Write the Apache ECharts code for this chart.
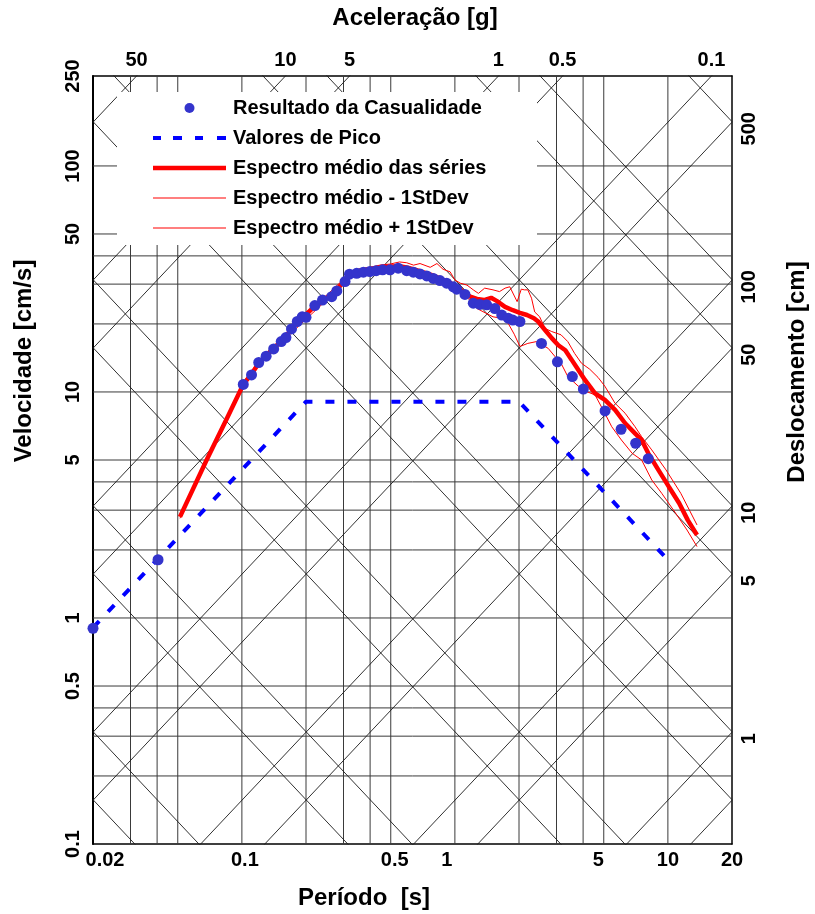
<!DOCTYPE html>
<html><head><meta charset="utf-8">
<script src="https://cdn.jsdelivr.net/npm/echarts@6/dist/echarts.min.js"></script>
<style>html,body{margin:0;padding:0;background:#fff}#c{width:815px;height:914px}</style>
</head><body><div id="c"></div>
<script>
// ---------- data ----------
const periodTicks = [0.02, 0.1, 0.5, 1, 5, 10, 20];
const velocityTicks = [0.1, 0.5, 1, 5, 10, 50, 100, 250];
const accelTicks = [50, 10, 5, 1, 0.5, 0.1];          // g
const dispTicks = [500, 100, 50, 10, 5, 1];            // cm
const gridPeriods = [0.03, 0.04, 0.05, 0.1, 0.2, 0.3, 0.4, 0.5, 1, 2, 3, 4, 5, 10];
const gridVelocities = [0.2, 0.3, 0.4, 0.5, 1, 2, 3, 4, 5, 10, 20, 30, 40, 50, 100];
const dispLines = [0.0005, 0.001, 0.005, 0.01, 0.05, 0.1, 0.5, 1, 5, 10, 50, 100, 500];
const accLines = [0.00005, 0.0001, 0.0005, 0.001, 0.005, 0.01, 0.05, 0.1, 0.5, 1, 5, 10, 50];

const casualT = [0.02, 0.0404, 0.1015, 0.111, 0.120, 0.130, 0.141, 0.153, 0.161, 0.171, 0.182, 0.192, 0.200,
  0.220, 0.239, 0.264, 0.279, 0.305, 0.320, 0.346, 0.372, 0.399, 0.427, 0.458, 0.496, 0.542, 0.594, 0.638,
  0.686, 0.738, 0.792, 0.851, 0.915, 0.983, 1.02, 1.115, 1.22, 1.31, 1.41, 1.54, 1.66, 1.78, 1.87, 2.02,
  2.55, 3.03, 3.56, 4.01, 5.07, 6.03, 7.06, 8.09];
const casualV = [0.90, 1.81, 10.8, 11.9, 13.5, 14.4, 15.5, 16.7, 17.4, 19.0, 20.5, 21.5, 21.4,
  24.1, 25.5, 26.4, 28.0, 30.8, 33.2, 33.5, 33.9, 34.1, 34.4, 34.7, 34.7, 35.3, 34.4, 33.9,
  33.3, 32.6, 31.8, 31.1, 30.3, 29.2, 28.5, 27.0, 24.7, 24.4, 24.3, 23.4, 21.9, 21.2, 20.8, 20.5,
  16.4, 13.6, 11.7, 10.3, 8.24, 6.84, 5.93, 5.07];

const peakT = [0.02, 0.2, 2, 10];
const peakV = [0.906, 9.06, 9.06, 1.81];

const meanT = [0.0512, 0.0683, 0.0848, 0.1015, 0.111, 0.12, 0.13, 0.141, 0.153, 0.161, 0.171,
  0.182, 0.192, 0.2, 0.22, 0.239, 0.264, 0.279, 0.305, 0.32, 0.35, 0.4, 0.45, 0.5, 0.55, 0.6, 0.65, 0.7,
  0.75, 0.8, 0.85, 0.9, 0.95, 1.0, 1.06, 1.12, 1.18, 1.27, 1.37, 1.48, 1.57, 1.72, 1.87, 2.02, 2.18, 2.35,
  2.46, 2.65, 2.85, 3.06, 3.3, 3.53, 3.8, 4.08, 4.55, 5.06, 5.65, 6.3, 7.01, 7.53, 8.09, 9.02, 10.1, 11.3,
  12.4, 13.7];
const meanV = [2.8, 5.0, 7.6, 10.8, 12.0, 13.4, 14.5, 15.6, 16.8, 17.6, 19.0,
  20.5, 21.5, 22.0, 24.0, 25.6, 26.8, 28.3, 31.2, 33.5, 34.3, 35.0, 35.6, 35.9, 36.0, 35.5, 34.8, 34.0,
  33.3, 32.6, 31.8, 31.0, 30.3, 29.6, 28.5, 27.3, 26.4, 25.8, 25.5, 26.1, 25.3, 23.8, 23.0, 22.4, 21.9, 21.2,
  20.5, 18.8, 17.3, 16.1, 15.3, 13.9, 12.5, 11.3, 9.86, 9.22, 8.33, 7.27, 6.56, 6.13, 5.35, 4.52, 3.81, 3.22,
  2.71, 2.33];

const minusT = [0.0512, 0.0683, 0.0848, 0.1015, 0.12, 0.15, 0.2, 0.25, 0.3, 0.35, 0.4, 0.5, 0.6, 0.7, 0.8, 0.9,
  1.0, 1.1, 1.2, 1.27, 1.4, 1.51, 1.66, 1.78, 1.9, 2.02, 2.2, 2.41, 2.74, 2.96, 3.15, 3.39, 3.8, 4.2, 4.55,
  5.06, 5.45, 6.05, 6.8, 7.53, 8.4, 9.36, 10.9, 12.3, 13.7];
const minusV = [2.76, 4.93, 7.5, 10.6, 13.1, 16.2, 21.0, 25.5, 30.5, 33.5, 34.2, 35.0, 34.5, 33.2, 31.8, 30.3,
  28.8, 27.0, 25.0, 23.4, 22.3, 21.5, 21.2, 20.1, 18.0, 15.9, 16.4, 16.7, 15.6, 14.3, 13.4, 11.7, 10.6, 10.0, 9.7,
  8.05, 7.02, 6.13, 5.35, 5.0, 4.08, 3.56, 2.9, 2.45, 2.07];

const plusT = [0.0512, 0.0683, 0.0848, 0.1015, 0.12, 0.15, 0.2, 0.25, 0.3, 0.35, 0.41, 0.45, 0.496, 0.55, 0.594,
  0.64, 0.686, 0.766, 0.824, 0.88, 0.95, 1.0, 1.06, 1.14, 1.22, 1.29, 1.38, 1.51, 1.62, 1.72, 1.81, 1.96,
  2.05, 2.12, 2.2, 2.29, 2.37, 2.5, 2.65, 2.85, 3.15, 3.39, 3.65, 3.93, 4.3, 4.7, 5.06, 5.65, 6.3, 7.01,
  7.53, 8.4, 9.8, 11.5, 13.7];
const plusV = [2.84, 5.07, 7.7, 11.0, 13.7, 16.9, 22.5, 26.8, 31.5, 34.8, 35.8, 36.5, 36.8, 37.6, 37.3,
  36.4, 37.0, 35.6, 37.0, 34.9, 34.0, 31.3, 30.3, 29.7, 28.3, 27.3, 28.8, 28.3, 27.8, 28.8, 29.2, 25.1,
  28.5, 28.3, 28.3, 26.0, 22.6, 21.5, 19.1, 18.5, 17.9, 16.7, 14.8, 13.4, 12.6, 11.6, 10.6, 8.91, 8.05, 7.02,
  6.34, 5.54, 4.52, 3.56, 2.58];

// ---------- chart ----------
const FONT = "'Liberation Sans', Arial, sans-serif";
const PI2 = 2 * Math.PI, G = 981;
const T_MIN = 0.02, T_MAX = 20, V_MIN = 0.1, V_MAX = 250;
const dispLabelT = 21.5;
const zip = (a, b) => a.map((v, i) => [v, b[i]]);
const nearest = (arr, v) => arr.reduce((p, c) => Math.abs(Math.log(c / v)) < Math.abs(Math.log(p / v)) ? c : p);

const tickText = {fontSize: 20, fontWeight: 'bold', fontFamily: FONT, color: '#000'};
const legendText = {fontSize: 20, fontWeight: 'bold', fontFamily: FONT, color: '#000', lineHeight: 20, padding: [0, 0, 0, 2]};
// horizontal label shifts (px) of the bottom tick labels, as in the original figure
const bottomShift = [24, 6, 8, -16, -11, 0, 0];
const bottomRich = {};
bottomShift.forEach((s, i) => {
  bottomRich['k' + i] = Object.assign({padding: [0, Math.max(0, -s), 0, Math.max(0, s)]}, tickText);
});

const series = [];
const guide = (data, color, width) => ({type: 'line', data, symbol: 'none', silent: true, z: 1,
  animation: false, clip: true, lineStyle: {color, width}});
gridPeriods.forEach(t => series.push(guide([[t, V_MIN], [t, V_MAX]], '#3a3a3a', 1)));
gridVelocities.forEach(v => series.push(guide([[T_MIN, v], [T_MAX, v]], '#3a3a3a', 1)));
dispLines.forEach(d => series.push(guide([[T_MIN, PI2 * d / T_MIN], [T_MAX, PI2 * d / T_MAX]], '#1a1a1a', 0.9)));
accLines.forEach(a => series.push(guide([[T_MIN, a * G * T_MIN / PI2], [T_MAX, a * G * T_MAX / PI2]], '#1a1a1a', 0.9)));

const styles = {
  peak: {color: '#0000ff', width: 4, type: [9, 13]},
  mean: {color: '#ff0000', width: 4.5, type: 'solid'},
  sd: {color: '#ff0000', width: 1, type: 'solid'}
};
// legend swatches drawn as filled paths (73 px wide)
const swatch = {
  peak: 'path://M0,0H8V4H0Z M20,0H29V4H20Z M42,0H50V4H42Z M64,0H73V4H64Z',
  mean: 'path://M0,0H73V4.5H0Z',
  sd: 'path://M0,0H73V1H0Z'
};
const lineSeries = (name, t, v, st) => ({name, type: 'line', data: zip(t, v), symbol: 'none',
  z: 5, animation: false, itemStyle: {color: st.color}, lineStyle: st});
series.push(lineSeries('Valores de Pico', peakT, peakV, styles.peak));
series.push(lineSeries('Espectro médio das séries', meanT, meanV, styles.mean));
series.push(lineSeries('Espectro médio - 1StDev', minusT, minusV, styles.sd));
series.push(lineSeries('Espectro médio + 1StDev', plusT, plusV, styles.sd));
series.push({name: 'Resultado da Casualidade', type: 'scatter', data: zip(casualT, casualV), symbolSize: 11,
  z: 6, animation: false, itemStyle: {color: '#3434cc', opacity: 1}});

const legendItem = (name, key) => key
  ? {name, icon: swatch[key], itemStyle: {color: styles[key].color, opacity: 1, borderWidth: 0}}
  : {name, icon: 'circle'};

const chart = echarts.init(document.getElementById('c'), null, {renderer: 'canvas'});
chart.setOption({
  animation: false,
  backgroundColor: '#fff',
  grid: {left: 93, right: 83, top: 76, bottom: 70, containLabel: false},
  xAxis: [
    {type: 'log', logBase: 10, min: T_MIN, max: T_MAX, position: 'bottom',
      axisLine: {show: true, lineStyle: {color: '#000', width: 1.5}}, axisTick: {show: false},
      splitLine: {show: false}, minorSplitLine: {show: false},
      axisLabel: Object.assign({customValues: periodTicks, margin: 6,
        formatter: v => { const n = nearest(periodTicks, v); return '{k' + periodTicks.indexOf(n) + '|' + n + '}'; },
        rich: bottomRich}, tickText)},
    {type: 'log', logBase: 10, min: T_MIN, max: T_MAX, position: 'top',
      axisLine: {show: true, lineStyle: {color: '#000', width: 1.5}}, axisTick: {show: false},
      splitLine: {show: false},
      axisLabel: Object.assign({customValues: accelTicks.map(a => PI2 * V_MAX / (a * G)), margin: 6,
        formatter: v => String(nearest(accelTicks, PI2 * V_MAX / (v * G)))}, tickText)}
  ],
  yAxis: [
    {type: 'log', logBase: 10, min: V_MIN, max: V_MAX, position: 'left',
      axisLine: {show: true, lineStyle: {color: '#000', width: 2}}, axisTick: {show: false},
      splitLine: {show: false},
      axisLabel: Object.assign({customValues: velocityTicks, rotate: 90, margin: 10,
        formatter: v => String(nearest(velocityTicks, v))}, tickText)},
    {type: 'log', logBase: 10, min: V_MIN, max: V_MAX, position: 'right',
      axisLine: {show: true, lineStyle: {color: '#000', width: 1.5}}, axisTick: {show: false},
      splitLine: {show: false},
      axisLabel: Object.assign({customValues: dispTicks.map(d => PI2 * d / dispLabelT), rotate: 90, margin: 7,
        formatter: v => String(nearest(dispTicks, v * dispLabelT / PI2))}, tickText)}
  ],
  legend: {
    data: [
      legendItem('Resultado da Casualidade'),
      legendItem('Valores de Pico', 'peak'),
      legendItem('Espectro médio das séries', 'mean'),
      legendItem('Espectro médio - 1StDev', 'sd'),
      legendItem('Espectro médio + 1StDev', 'sd')],
    orient: 'vertical', left: 153, top: 98, padding: 0, itemWidth: 73, itemHeight: 10, itemGap: 10,
    selectedMode: false, z: 10,
    textStyle: legendText
  },
  graphic: [
    {type: 'rect', z: 3, shape: {x: 117, y: 92, width: 420, height: 153}, style: {fill: '#fff'}},
    {type: 'text', x: 415, y: 18, z: 10, style: {text: 'Aceleração [g]', fontSize: 24, fontWeight: 'bold',
      fontFamily: FONT, fill: '#000', textAlign: 'center', textVerticalAlign: 'middle', align: 'center', verticalAlign: 'middle'}},
    {type: 'text', x: 364, y: 898, z: 10, style: {text: 'Período  [s]', fontSize: 24, fontWeight: 'bold',
      fontFamily: FONT, fill: '#000', textAlign: 'center', textVerticalAlign: 'middle', align: 'center', verticalAlign: 'middle'}},
    {type: 'text', x: 24, y: 361, z: 10, rotation: Math.PI / 2, style: {text: 'Velocidade [cm/s]', fontSize: 24,
      fontWeight: 'bold', fontFamily: FONT, fill: '#000', textAlign: 'center', textVerticalAlign: 'middle', align: 'center', verticalAlign: 'middle'}},
    {type: 'text', x: 797, y: 372, z: 10, rotation: Math.PI / 2, style: {text: 'Deslocamento [cm]', fontSize: 24,
      fontWeight: 'bold', fontFamily: FONT, fill: '#000', textAlign: 'center', textVerticalAlign: 'middle', align: 'center', verticalAlign: 'middle'}}
  ],
  series
});
</script></body></html>
